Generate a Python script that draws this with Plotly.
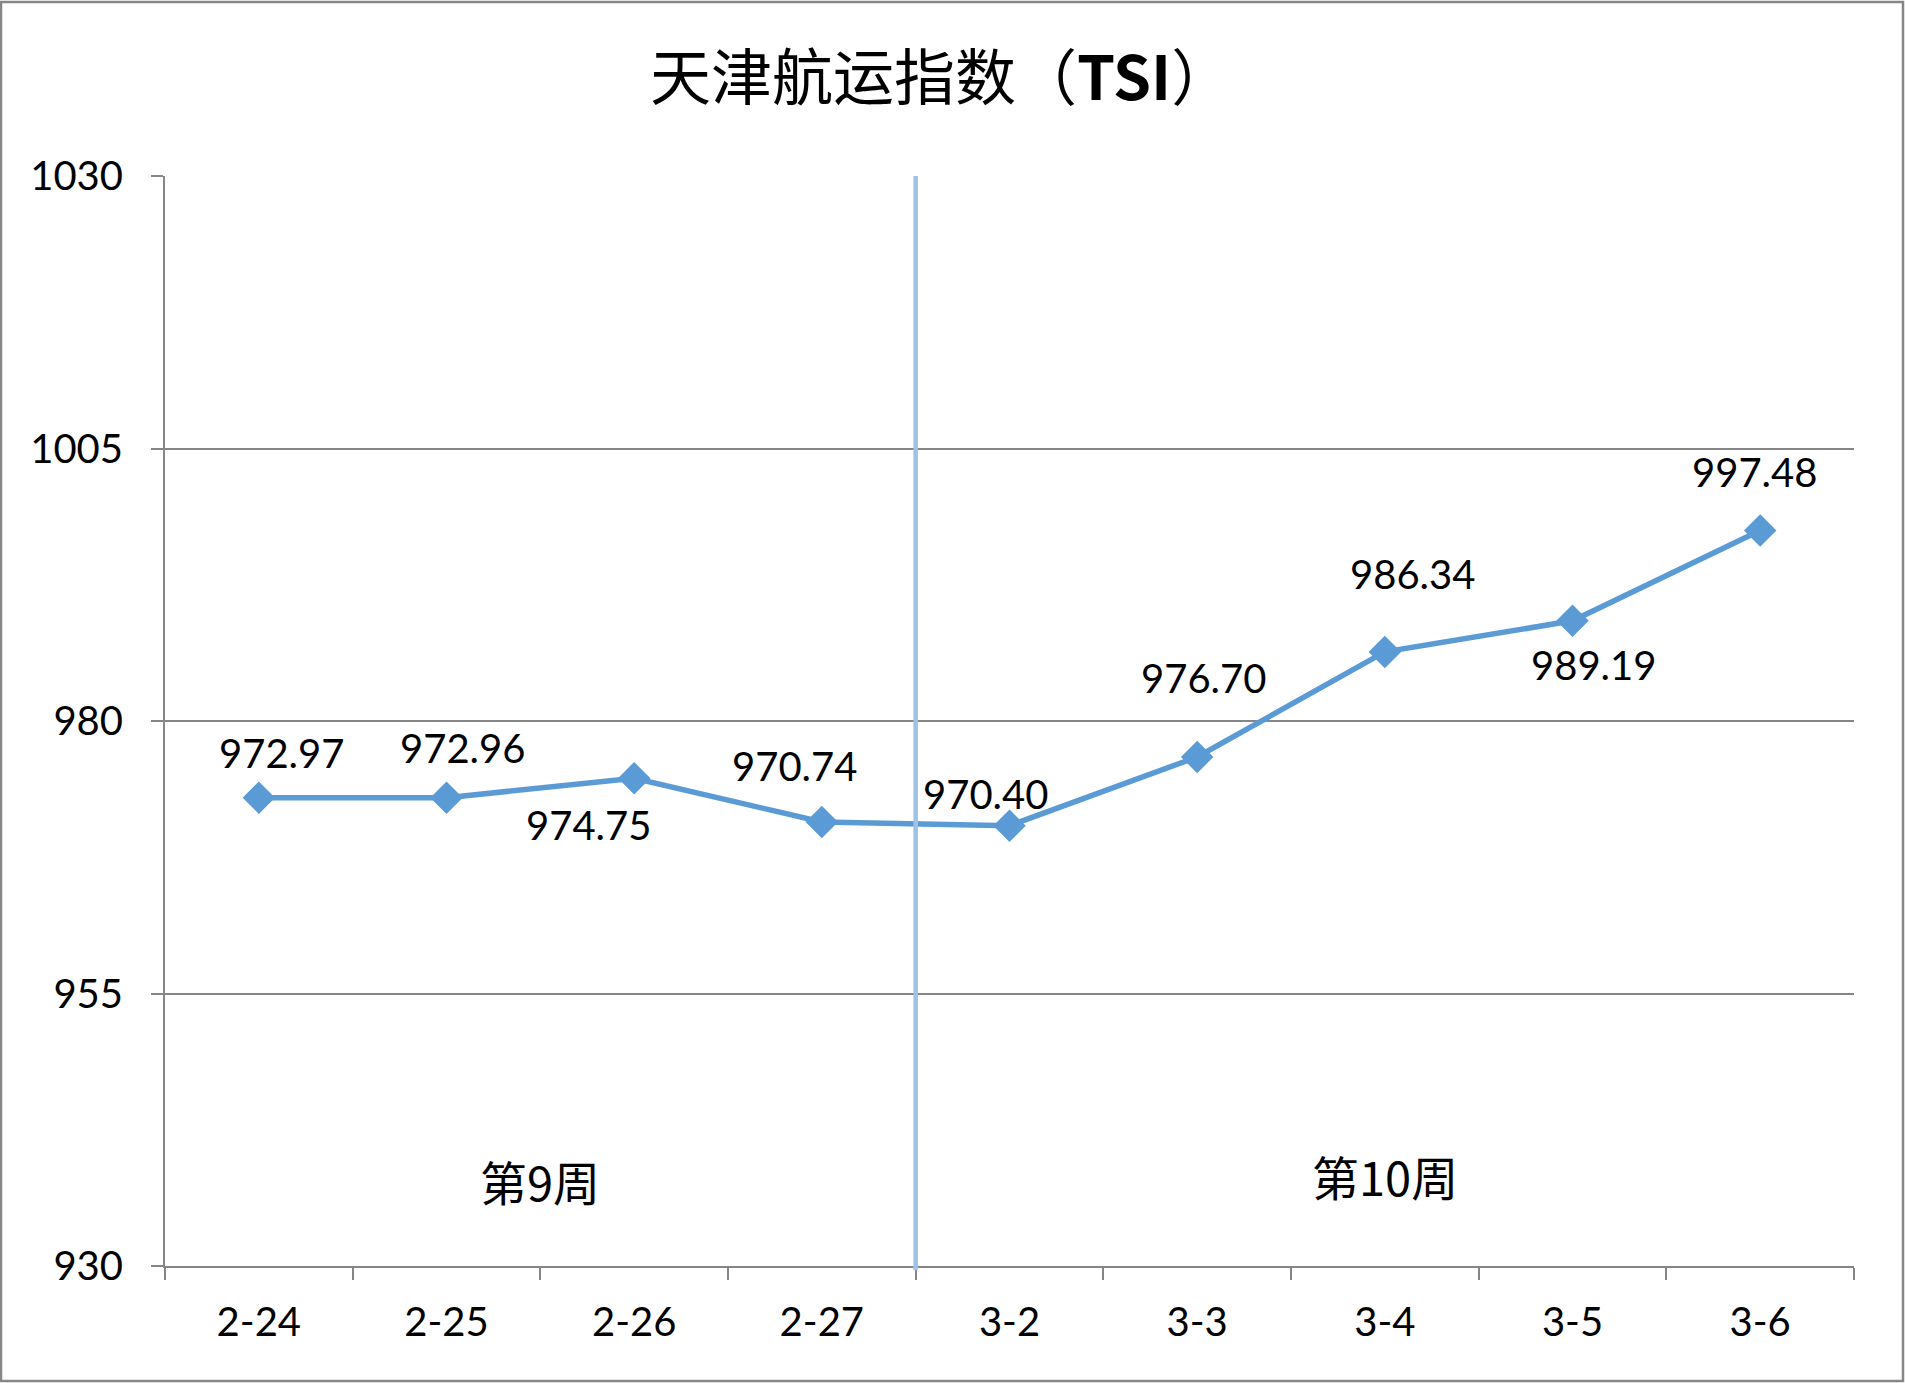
import plotly.graph_objects as go

dates = ["2-24", "2-25", "2-26", "2-27", "3-2", "3-3", "3-4", "3-5", "3-6"]
tsi = [972.97, 972.96, 974.75, 970.74, 970.40, 976.70, 986.34, 989.19, 997.48]
week_names = ["第9周", "第10周"]
week_x = [1.5, 6.0]
week_y = [937.8, 938.3]
week_split = 3.5

# label placement (pixel offsets from each point, like the hand-moved excel labels)
label_dx = [23, 16, -46, -27, -24, 6, 28, 21, -6]
label_dy = [45, 50, -47, 56, 32, 79, 78, -44, 58]

blue = "#5B9BD5"
grey = "#868686"
font_num = "Lato, Noto Sans, sans-serif"
font_cjk = "Noto Sans CJK SC, sans-serif"

fig = go.Figure()
fig.add_trace(go.Scatter(
    x=dates, y=tsi, mode="lines+markers",
    line=dict(color=blue, width=5.5),
    marker=dict(symbol="diamond", size=25, color=blue),
    showlegend=False, hoverinfo="x+y",
))

for i, d in enumerate(dates):
    fig.add_annotation(
        x=d, y=tsi[i], text="%.2f" % tsi[i], showarrow=False,
        xshift=label_dx[i], yshift=label_dy[i],
        font=dict(family=font_num, size=40, color="black"),
    )

for i, w in enumerate(week_names):
    fig.add_annotation(
        x=week_x[i], y=week_y[i], text=w, showarrow=False,
        font=dict(family=font_cjk, size=47, color="black"),
    )

# week separator
fig.add_shape(type="line", xref="x", yref="paper", x0=week_split, x1=week_split,
              y0=-0.004, y1=1, line=dict(color="#9DC3E6", width=4.5))

# outer border of the chart
fig.add_shape(type="rect", xref="paper", yref="paper",
              x0=-164 / 1689, x1=1 + 49 / 1689, y0=-115 / 1090, y1=1 + 174 / 1090,
              line=dict(color=grey, width=2.5))

fig.update_layout(
    width=1905, height=1383,
    margin=dict(l=165, r=51, t=176, b=117),
    paper_bgcolor="white", plot_bgcolor="white",
    title=dict(text="天津航运指数（<b>TSI</b>）", x=0.494, xanchor="center",
               y=1 - 79 / 1383, yanchor="middle",
               font=dict(family=font_cjk, size=61, color="black")),
    xaxis=dict(
        type="category", range=[-0.5, 8.5], tickson="boundaries",
        showline=True, linecolor=grey, linewidth=2,
        ticks="outside", ticklen=12, tickcolor=grey, tickwidth=2,
        showgrid=False, ticklabelstandoff=20,
        tickfont=dict(family=font_num, size=40, color="black"),
    ),
    yaxis=dict(
        range=[930, 1030], dtick=25, tick0=930,
        showline=True, linecolor=grey, linewidth=2,
        ticks="outside", ticklen=12, tickcolor=grey, tickwidth=2,
        showgrid=True, gridcolor=grey, gridwidth=1.5, zeroline=False,
        ticklabelstandoff=20,
        tickfont=dict(family=font_num, size=40, color="black"),
    ),
)

fig.write_html("out.html", config={"displayModeBar": False},
               post_script="document.body.style.margin='0';")
